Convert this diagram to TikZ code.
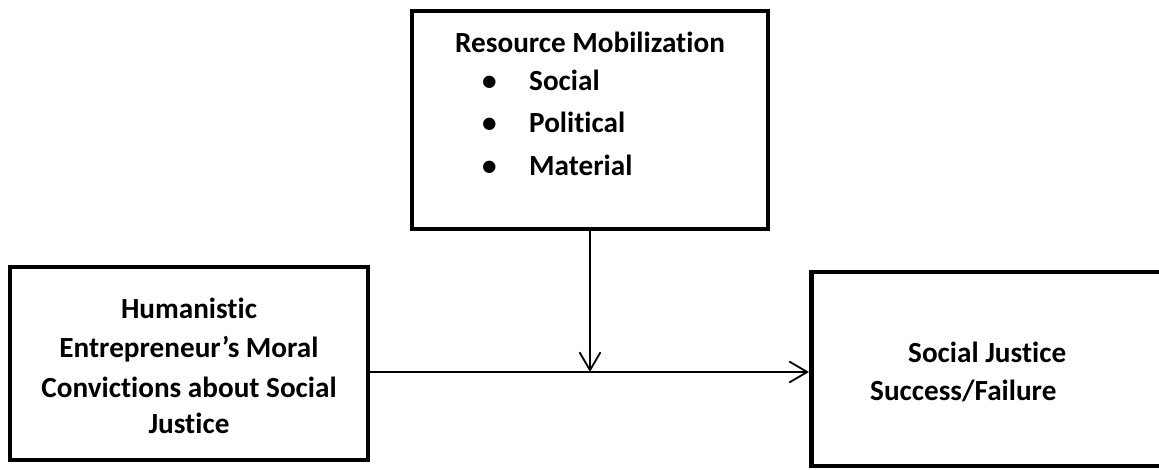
\documentclass[tikz,border=0pt]{standalone}
\usepackage{fontspec}
\setmainfont{Carlito}[Ligatures={NoCommon}]
\usetikzlibrary{arrows.meta}
\begin{document}
\begin{tikzpicture}[x=1pt,y=-1pt,
  box/.style={draw=black,line width=4.5pt,rectangle,inner sep=0pt},
  txt/.style={anchor=base west,inner sep=0pt,font=\fontsize{29.2}{34}\selectfont\bfseries},
  ctxt/.style={anchor=base,inner sep=0pt,font=\fontsize{29.2}{34}\selectfont\bfseries},
  conn/.style={line width=1.8pt,-{Straight Barb[length=18pt,width=21pt,line width=1.8pt]}}]
\useasboundingbox (0,0) rectangle (1159,470);
\begin{scope}
\clip (0,0) rectangle (1159,470);
% boxes
\node[box,minimum width=356pt,minimum height=218pt] (rm) at (590,120) {};
\node[box,minimum width=358pt,minimum height=193pt] (he) at (189,363.5) {};
\node[box,minimum width=400pt,minimum height=194pt,anchor=west] (sj) at (809,369) {};
% texts
\node[txt] (t1) at (455,53) {Resource Mobilization};
\node[txt] (b1) at (482,91) {•};
\node[txt] (i1) at (529,91) {Social};
\node[txt] (b2) at (482,133) {•};
\node[txt] (i2) at (529,133) {Political};
\node[txt] (b3) at (482,176) {•};
\node[txt] (i3) at (529,176) {Material};
\node[ctxt] (h1) at (189,318) {Humanistic};
\node[ctxt] (h2) at (189,357) {Entrepreneur’s Moral};
\node[ctxt] (h3) at (189,397) {Convictions about Social};
\node[ctxt] (h4) at (189,433) {Justice};
\node[txt] (s1) at (908,362) {Social Justice};
\node[txt] (s2) at (870,400) {Success/Failure};
% connectors
\coordinate (m) at (rm.south |- 0,372);
\draw[conn] (rm.south) -- (m);
\draw[conn] (he.east |- 0,372) -- (sj.west |- 0,372);
\end{scope}
\end{tikzpicture}
\end{document}
